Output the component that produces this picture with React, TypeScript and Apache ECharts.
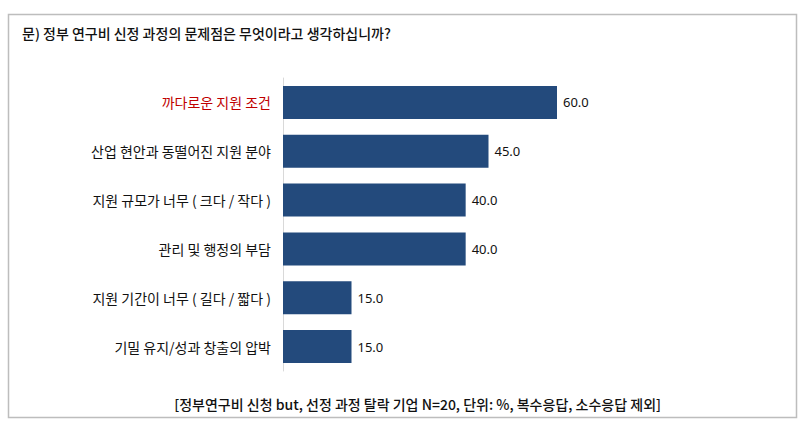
import React, { useEffect, useRef } from "react";
import * as echarts from "echarts";

const titleText = "문) 정부 연구비 신정 과정의 문제점은 무엇이라고 생각하십니까?";
const noteText = "[정부연구비 신청 but, 선정 과정 탈락 기업 N=20, 단위: %, 복수응답, 소수응답 제외]";
const categories = [
  "까다로운 지원 조건",
  "산업 현안과 동떨어진 지원 분야",
  "지원 규모가 너무 ( 크다 / 작다 )",
  "관리 및 행정의 부담",
  "지원 기간이 너무 ( 길다 / 짧다 )",
  "기밀 유지/성과 창출의 압박",
];
const values = [60.0, 45.0, 40.0, 40.0, 15.0, 15.0];
const highlightIndex = 0;

const FONT = "'Noto Sans CJK KR', 'Noto Sans', sans-serif";

export default function App() {
  const ref = useRef<HTMLDivElement>(null);
  useEffect(() => {
    if (!ref.current) return;
    const chart = echarts.init(ref.current, null, { renderer: "svg" });
    chart.setOption({
      animation: false,
      backgroundColor: "#ffffff",
      textStyle: { fontFamily: FONT },
      graphic: [
        {
          type: "rect",
          shape: { x: 8.5, y: 14.5, width: 788, height: 403 },
          style: { fill: "none", stroke: "#bdbdbd", lineWidth: 1.5 },
          silent: true,
        },
        {
          type: "text",
          x: 22,
          y: 33,
          style: {
            text: titleText,
            font: `500 14px ${FONT}`,
            fill: "#111",
            textVerticalAlign: "middle",
          },
        },
        {
          type: "text",
          x: 661,
          y: 404,
          style: {
            text: noteText,
            font: `500 14px ${FONT}`,
            fill: "#111",
            textAlign: "right",
            textVerticalAlign: "middle",
          },
        },
      ],
      grid: { left: 283, right: 251, top: 78, bottom: 59, containLabel: false },
      xAxis: {
        type: "value",
        min: 0,
        max: 60,
        show: false,
      },
      yAxis: {
        type: "category",
        data: categories,
        inverse: true,
        axisLine: { show: true, lineStyle: { color: "#d9d9d9", width: 1 } },
        axisTick: { show: false },
        axisLabel: {
          margin: 12,
          fontSize: 14,
          fontFamily: FONT,
          color: (v: string, i: number) => (i === highlightIndex ? "#c00000" : "#111111"),
        },
      },
      series: [
        {
          type: "bar",
          data: values,
          barWidth: 33,
          itemStyle: { color: "#234a7c" },
          label: {
            show: true,
            position: "right",
            distance: 6,
            fontSize: 13,
            fontFamily: "'Noto Sans', sans-serif",
            color: "#111",
            formatter: (p: any) => Number(p.value).toFixed(1),
          },
        },
      ],
    });
    return () => chart.dispose();
  }, []);
  return (
    <div
      ref={ref}
      style={{ position: "absolute", left: 0, top: 0, width: 808, height: 430 }}
    />
  );
}
